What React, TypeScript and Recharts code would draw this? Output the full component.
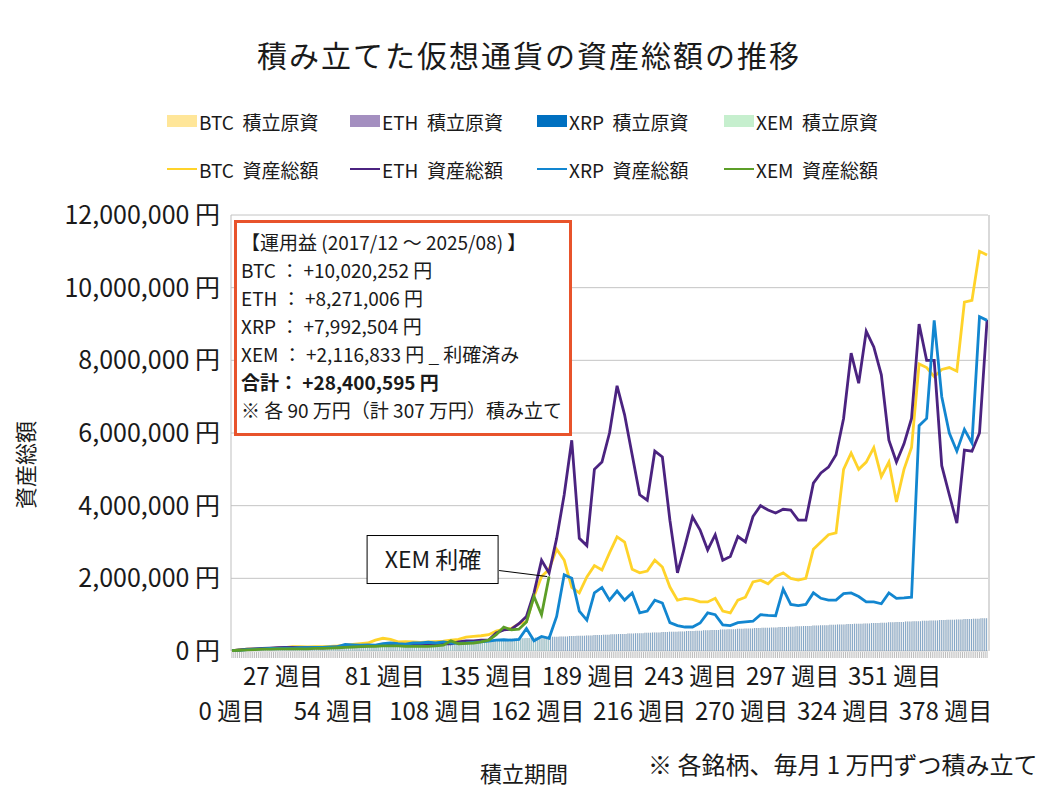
import {
    ComposedChart,
    Bar,
    Line,
    XAxis,
    YAxis,
    CartesianGrid,
    ReferenceDot
} from "recharts";

// 積立期間（週目）: 0〜400週目
const weeks = Array.from({ length: 401 }, (_, i) => i);

// 資産総額（万円）: 4週ごとに読み取り（0, 4, 8, ... 400週目）
const SAMPLE_EVERY = 4;
const btcTotal = [
    1, 3, 5, 6, 6, 7, 8, 9, 12, 12,
    11, 12, 12, 13, 14, 16, 18, 20, 22, 30,
    35, 32, 25, 26, 25, 24, 25, 26, 27, 30,
    32, 38, 40, 42, 45, 55, 60, 62, 75, 80,
    150, 205, 225, 280, 250, 175, 160, 204, 235, 223,
    270, 314, 300, 225, 215, 220, 250, 231, 176, 140,
    145, 142, 135, 135, 145, 110, 105, 140, 148, 190,
    195, 185, 205, 215, 200, 195, 200, 280, 300, 320,
    325, 500, 545, 500, 520, 560, 480, 520, 410, 500,
    560, 790, 780, 755, 775, 780, 770, 960, 965, 1100,
    1090
];
const ethTotal = [
    1, 3, 5, 6, 7, 8, 9, 10, 10, 9,
    9, 9, 9, 10, 11, 12, 13, 13, 14, 15,
    16, 16, 17, 17, 18, 18, 18, 19, 20, 20,
    25, 28, 28, 30, 30, 50, 58, 60, 75, 95,
    160, 250, 215, 310, 430, 580, 310, 290, 500, 520,
    600, 730, 650, 540, 430, 415, 550, 534, 360, 215,
    290, 369, 333, 278, 320, 250, 260, 315, 300, 370,
    400, 388, 380, 390, 388, 360, 360, 462, 490, 506,
    540, 640, 820, 737, 880, 837, 760, 580, 520, 570,
    640, 900, 800, 800, 510, 430, 352, 553, 550, 600,
    911
];
const xrpTotal = [
    1, 2, 4, 5, 6, 7, 7, 8, 8, 9,
    9, 10, 10, 11, 12, 18, 17, 16, 17, 16,
    20, 22, 20, 19, 22, 22, 24, 22, 25, 22,
    21, 22, 24, 25, 27, 30, 31, 30, 32, 62,
    28, 40, 35, 95, 210, 200, 110, 85, 160, 175,
    140, 165, 140, 160, 105, 110, 140, 132, 78, 70,
    66, 66, 77, 105, 100, 72, 70, 78, 80, 82,
    100, 98, 97, 170, 128, 125, 128, 160, 145, 140,
    140, 158, 160, 150, 135, 135, 130, 160, 145, 146,
    148, 620, 640, 910, 700, 600, 550, 610, 572, 920,
    910
];
// XEM は168週目で利確
const xemTotal = [
    1, 2, 3, 4, 5, 5, 6, 6, 6, 6,
    6, 7, 7, 8, 9, 10, 11, 12, 13, 13,
    14, 14, 14, 13, 13, 13, 13, 14, 16, 28,
    20, 21, 22, 25, 30, 45, 66, 58, 60, 80,
    150, 100, 205
];

// 積立原資（万円）: 毎月1万円ずつ
const monthlyPrincipal = [
    1, 2, 3, 4, 5, 6, 7, 8, 9, 10, 11, 12, 13, 14, 15, 16, 17, 18, 19, 20,
    21, 22, 23, 24, 25, 26, 27, 28, 29, 30, 31, 32, 33, 34, 35, 36, 37, 38, 39, 40,
    41, 42, 43, 44, 45, 46, 47, 48, 49, 50, 51, 52, 53, 54, 55, 56, 57, 58, 59, 60,
    61, 62, 63, 64, 65, 66, 67, 68, 69, 70, 71, 72, 73, 74, 75, 76, 77, 78, 79, 80,
    81, 82, 83, 84, 85, 86, 87, 88, 89, 90
];
const xemPrincipal = monthlyPrincipal.slice(0, 37);
const XEM_SOLD_WEEK = 168;

const yTicks = [0, 2000000, 4000000, 6000000, 8000000, 10000000, 12000000];
const TICK_EVERY = 27;
const MAN = 10000;

const principalSeries = [
    { key: "btcP", name: "BTC  積立原資", color: "#FFE699" },
    { key: "ethP", name: "ETH  積立原資", color: "#A48FC0" },
    { key: "xrpP", name: "XRP  積立原資", color: "#0070C0" },
    { key: "xemP", name: "XEM  積立原資", color: "#C6EFCE" },
];
const totalSeries = [
    { key: "btc", name: "BTC  資産総額", color: "#FFD32A" },
    { key: "eth", name: "ETH  資産総額", color: "#4B2380" },
    { key: "xrp", name: "XRP  資産総額", color: "#1286D0" },
    { key: "xem", name: "XEM  資産総額", color: "#5C9E28" },
];

const weeksPerMonth = weeks.length / monthlyPrincipal.length;

const data = weeks.map((w) => {
    const m = Math.min(Math.floor(w / weeksPerMonth), monthlyPrincipal.length - 1);
    const s = w % SAMPLE_EVERY === 0 ? w / SAMPLE_EVERY : -1;
    const pick = (arr: number[]) => (s >= 0 && s < arr.length ? arr[s] * MAN : null);
    return {
        week: w,
        btcP: monthlyPrincipal[m] * MAN,
        ethP: monthlyPrincipal[m] * MAN,
        xrpP: monthlyPrincipal[m] * MAN,
        xemP: w <= XEM_SOLD_WEEK ? xemPrincipal[Math.min(m, xemPrincipal.length - 1)] * MAN : null,
        btc: pick(btcTotal),
        eth: pick(ethTotal),
        xrp: pick(xrpTotal),
        xem: pick(xemTotal),
    };
});

const font = "'Noto Sans CJK JP', 'Noto Sans', sans-serif";

const WeekTick = (props: any) => {
    const { x, y, payload } = props;
    const upper = (payload.value / TICK_EVERY) % 2 === 1;
    return (
        <text x={x} y={y} dy={upper ? 34 : 69} textAnchor="middle" fontSize={24} fill="#1a1a1a" fontFamily={font}>
            {`${payload.value} 週目`}
        </text>
    );
};

const EmptyTick = () => <g />;

const XemCallout = (props: any) => {
    const { cx, cy } = props;
    return (
        <g>
            <line x1={cx - 50} y1={cy - 6} x2={cx - 2} y2={cy} stroke="#000" strokeWidth={1} />
            <rect x={cx - 182} y={cy - 41} width={131} height={48} fill="#fff" stroke="#000" strokeWidth={1} />
            <text x={cx - 116} y={cy - 9} textAnchor="middle" fontSize={23} fill="#1a1a1a" fontFamily={font}>
                XEM 利確
            </text>
        </g>
    );
};

const profitLines = [
    "【運用益 (2017/12 ～ 2025/08) 】",
    "BTC ： +10,020,252 円",
    "ETH ： +8,271,006 円",
    "XRP ： +7,992,504 円",
    "XEM ： +2,116,833 円 _ 利確済み",
    "合計： +28,400,595 円",
    "※ 各 90 万円（計 307 万円）積み立て",
];

export default function App() {
    return (
        <div style={{ position: "relative", width: 1042, height: 778, fontFamily: font, color: "#1a1a1a" }}>
            <div style={{ position: "absolute", top: 24, left: 0, width: 1042, textAlign: "center", fontSize: 30, letterSpacing: 2 }}>
                積み立てた仮想通貨の資産総額の推移
            </div>

            {[principalSeries, totalSeries].map((row, r) =>
                row.map((s, i) => (
                    <div
                        key={s.key}
                        style={{
                            position: "absolute",
                            top: r === 0 ? 100 : 148,
                            left: [159, 342, 529, 716][i],
                            height: 26,
                            display: "flex",
                            alignItems: "center",
                            fontSize: 19,
                            whiteSpace: "pre",
                        }}
                    >
                        <span
                            style={{
                                display: "inline-block",
                                width: 30,
                                height: r === 0 ? 12 : 2,
                                background: s.color,
                                marginRight: 2,
                            }}
                        />
                        {s.name}
                    </div>
                ))
            )}

            <ComposedChart
                width={1042}
                height={778}
                data={data}
                margin={{ top: 207, right: 62, bottom: 133, left: 10 }}
                barSize={1}
                barGap={-1}
            >
                <CartesianGrid vertical={false} stroke="#c4c4c4" />
                <XAxis
                    dataKey="week"
                    height={1}
                    interval={TICK_EVERY - 1}
                    tick={<WeekTick />}
                    tickLine={false}
                    axisLine={false}
                    tickSize={0}
                    tickMargin={0}
                />
                <XAxis
                    xAxisId="minor"
                    dataKey="week"
                    height={1}
                    interval={0}
                    tick={<EmptyTick />}
                    tickSize={6}
                    tickLine={{ stroke: "#bdbdbd" }}
                    axisLine={false}
                />
                <YAxis
                    width={213}
                    domain={[0, 12000000]}
                    ticks={yTicks}
                    tickFormatter={(v: number) => `${v.toLocaleString("en-US")} 円`}
                    tick={{ fontSize: 25, fill: "#1a1a1a", fontFamily: font }}
                    tickLine={false}
                    tickSize={0}
                    tickMargin={11}
                    axisLine={{ stroke: "#bfbfbf" }}
                />
                {principalSeries.map((s) => (
                    <Bar key={s.key} dataKey={s.key} fill={s.color} fillOpacity={0.4} isAnimationActive={false} />
                ))}
                {totalSeries.map((s) => (
                    <Line
                        key={s.key}
                        dataKey={s.key}
                        stroke={s.color}
                        strokeWidth={2.8}
                        dot={false}
                        connectNulls
                        type="linear"
                        isAnimationActive={false}
                    />
                ))}
                <ReferenceDot
                    x={XEM_SOLD_WEEK}
                    y={xemTotal[xemTotal.length - 1] * MAN}
                    shape={<XemCallout />}
                />
            </ComposedChart>

            <div style={{ position: "absolute", left: 980, top: 207, width: 2, height: 436, background: "#d9d9d9" }} />

            <div
                style={{
                    position: "absolute",
                    left: 226,
                    top: 212,
                    width: 338,
                    height: 216,
                    border: "3px solid #E8532B",
                    background: "#fff",
                    padding: "5px 0 0 4px",
                    boxSizing: "border-box",
                    fontSize: 19,
                    lineHeight: "28px",
                    whiteSpace: "pre",
                }}
            >
                {profitLines.map((t, i) => (
                    <div key={i} style={{ fontWeight: i === 5 ? 700 : 400 }}>{t}</div>
                ))}
            </div>

            <div
                style={{
                    position: "absolute",
                    left: 2,
                    top: 443,
                    width: 24,
                    height: 28,
                    fontSize: 22,
                    transform: "rotate(-90deg)",
                    transformOrigin: "center",
                    whiteSpace: "nowrap",
                    display: "flex",
                    justifyContent: "center",
                }}
            >
                資産総額
            </div>
            <div style={{ position: "absolute", left: 466, top: 748, width: 100, textAlign: "center", fontSize: 22 }}>
                積立期間
            </div>
            <div style={{ position: "absolute", left: 640, top: 738, fontSize: 24, whiteSpace: "pre" }}>
                ※ 各銘柄、毎月 1 万円ずつ積み立て
            </div>
        </div>
    );
}
